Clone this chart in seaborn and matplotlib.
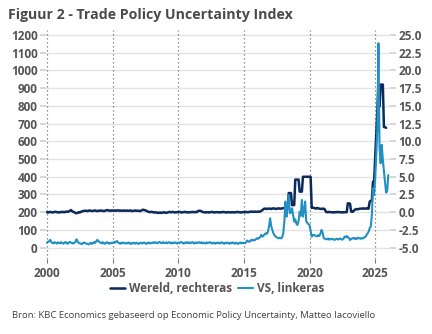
import numpy as np
import matplotlib
matplotlib.use("Agg")
import matplotlib.pyplot as plt
import seaborn as sns

# Trade Policy Uncertainty index, monthly from January 2000
# VS (United States), left axis
us_tpu = [
    28, 33, 36, 44, 31, 27, 24, 31, 27, 23, 30, 26,        # 2000
    25, 31, 27, 22, 28, 32, 25, 22, 29, 33, 27, 26,        # 2001
    23, 28, 31, 47, 35, 27, 25, 22, 20, 26, 29, 24,        # 2002
    24, 21, 18, 23, 27, 21, 25, 31, 27, 36, 44, 37,        # 2003
    32, 27, 24, 31, 24, 22, 28, 31, 25, 22, 28, 24,        # 2004
    26, 31, 27, 34, 37, 29, 25, 22, 28, 24, 29, 25,        # 2005
    23, 27, 24, 29, 23, 21, 27, 24, 28, 22, 27, 24,        # 2006
    21, 26, 28, 23, 27, 29, 24, 21, 27, 29, 23, 28,        # 2007
    25, 30, 26, 31, 27, 24, 30, 32, 27, 25, 31, 27,        # 2008
    26, 30, 24, 29, 31, 26, 23, 29, 25, 30, 26, 23,        # 2009
    29, 25, 30, 32, 26, 23, 29, 25, 31, 26, 30, 24,        # 2010
    29, 31, 26, 23, 30, 25, 29, 31, 26, 30, 24, 29,        # 2011
    26, 23, 30, 25, 29, 31, 26, 23, 29, 25, 22, 28,        # 2012
    25, 29, 23, 28, 30, 25, 22, 28, 24, 29, 25, 22,        # 2013
    28, 24, 29, 25, 22, 28, 24, 21, 27, 29, 24, 28,        # 2014
    26, 25, 30, 40, 35, 33, 38, 45, 40, 44, 42, 48,        # 2015
    53, 50, 55, 60, 72, 62, 68, 75, 81, 78, 90, 120,       # 2016
    166, 122, 100, 81, 70, 62, 58, 55, 53, 56, 52, 58,     # 2017
    81, 150, 260, 175, 230, 297, 194, 200, 222, 185, 147, 160,  # 2018
    135, 128, 150, 203, 180, 269, 175, 210, 260, 147, 140, 132, # 2019
    128, 95, 62, 70, 72, 68, 66, 64, 70, 66, 80, 100,      # 2020
    85, 53, 50, 48, 47, 52, 45, 48, 50, 46, 48, 44,        # 2021
    47, 50, 46, 48, 52, 47, 45, 50, 62, 58, 66, 60,        # 2022
    55, 43, 48, 52, 55, 50, 53, 48, 56, 52, 54, 50,        # 2023
    55, 52, 58, 60, 70, 80, 90, 109, 120, 185, 335, 297,   # 2024
    392, 520, 674, 1153, 560, 476, 580, 495, 430, 370, 310, 320,  # 2025
    410,                                                    # 2026
]

# Wereld (global), right axis
world_tpu = [
    0.0, -0.05, 0.0, 0.05, 0.0, -0.05, 0.0, 0.05, 0.05, 0.0, 0.0, -0.05,   # 2000
    0.0, 0.05, 0.0, 0.05, 0.0, 0.05, 0.1, 0.05, 0.1, 0.2, 0.3, 0.15,       # 2001
    0.05, 0.0, -0.1, -0.15, -0.1, 0.0, -0.05, 0.05, 0.1, 0.15, 0.2, 0.2,   # 2002
    0.2, 0.15, 0.2, 0.25, 0.2, 0.15, 0.2, 0.2, 0.25, 0.2, 0.15, 0.2,       # 2003
    0.2, 0.25, 0.2, 0.2, 0.15, 0.2, 0.25, 0.3, 0.25, 0.2, 0.25, 0.2,       # 2004
    0.25, 0.2, 0.25, 0.2, 0.25, 0.25, 0.2, 0.25, 0.2, 0.2, 0.25, 0.2,      # 2005
    0.2, 0.25, 0.2, 0.2, 0.25, 0.2, 0.15, 0.2, 0.2, 0.25, 0.2, 0.2,        # 2006
    0.2, 0.15, 0.2, 0.3, 0.35, 0.3, 0.25, 0.2, 0.1, 0.05, 0.0, 0.05,       # 2007
    0.05, 0.0, -0.05, 0.0, -0.05, -0.1, -0.05, -0.1, -0.05, -0.1, -0.05, 0.0,  # 2008
    -0.05, -0.1, -0.05, 0.0, 0.05, 0.0, 0.0, 0.05, 0.0, -0.05, 0.0, 0.0,   # 2009
    0.0, 0.05, 0.0, -0.05, 0.0, 0.0, 0.05, 0.0, 0.0, -0.05, 0.0, 0.0,      # 2010
    0.0, 0.05, 0.0, 0.0, 0.05, 0.0, 0.15, 0.2, 0.2, 0.15, 0.05, 0.0,       # 2011
    0.0, -0.05, 0.0, 0.0, -0.05, 0.0, 0.0, 0.05, 0.0, -0.05, 0.0, 0.0,     # 2012
    0.0, 0.0, -0.05, 0.0, 0.0, 0.05, 0.0, 0.0, -0.05, 0.0, 0.0, 0.0,       # 2013
    -0.05, 0.0, 0.0, -0.05, 0.0, 0.0, 0.05, 0.0, 0.0, -0.05, 0.0, 0.0,     # 2014
    0.0, 0.0, 0.05, 0.0, 0.0, 0.05, 0.05, 0.1, 0.05, 0.05, 0.1, 0.05,      # 2015
    0.05, 0.1, 0.05, 0.1, 0.2, 0.3, 0.45, 0.5, 0.5, 0.45, 0.5, 0.5,        # 2016
    0.5, 0.45, 0.5, 0.55, 0.5, 0.45, 0.5, 0.5, 0.55, 0.5, 0.5, 0.55,       # 2017
    0.55, 0.6, 0.6, 0.6, 0.6, 2.7, 2.7, 2.7, 1.0, 1.0, 1.0, 4.6,           # 2018
    4.6, 4.6, 4.6, 2.9, 2.9, 2.9, 5.0, 5.0, 5.0, 5.0, 5.0, 5.0,            # 2019
    5.0, 5.0, 0.6, 0.65, 0.6, 0.55, 0.5, 0.6, 0.55, 0.5, 0.45, 0.5,        # 2020
    0.45, 0.5, 0.4, 0.05, 0.0, 0.0, 0.05, 0.0, 0.0, 0.0, -0.05, 0.0,       # 2021
    0.0, 0.0, 0.05, 0.0, 0.0, 0.0, -0.05, 0.0, 0.0, 0.0, 0.0, 1.25,        # 2022
    1.25, 1.2, 0.1, 0.05, 0.1, 0.3, 0.4, 0.45, 0.4, 0.45, 0.5, 0.5,        # 2023
    0.5, 0.55, 0.5, 0.5, 0.55, 0.5, 0.5, 1.5, 1.6, 1.7, 4.3, 4.3,          # 2024
    7.5, 11.0, 14.5, 18.0, 14.9, 18.0, 18.0, 18.0, 12.0, 12.0, 11.9,       # 2025
]

year_ticks = [2000, 2005, 2010, 2015, 2020, 2025]
left_ticks = list(range(0, 1201, 100))
right_ticks = [-5.0, -2.5, 0.0, 2.5, 5.0, 7.5, 10.0, 12.5, 15.0, 17.5, 20.0, 22.5, 25.0]

title = "Figuur 2 - Trade Policy Uncertainty Index"
label_world = "Wereld, rechteras"
label_us = "VS, linkeras"
source = "Bron: KBC Economics gebaseerd op Economic Policy Uncertainty, Matteo Iacoviello"

# monthly time axis in decimal years
us_x = 2000 + np.arange(len(us_tpu)) / 12
world_x = 2000 + np.arange(len(world_tpu)) / 12

NAVY = "#0c2a5b"
BLUE = "#2390c3"
TXT = "#555555"

sns.set_theme(style="white")
plt.rcParams["font.family"] = ["Open Sans", "DejaVu Sans"]

fig = plt.figure(figsize=(4.32, 3.34), dpi=100)
ax = fig.add_axes([0.1065, 0.2246, 0.7963, 0.6856])
ax2 = ax.twinx()

# right axis underneath, carries the grid; left axis on top
ax.set_zorder(ax2.get_zorder() + 1)
ax.patch.set_visible(False)

sns.lineplot(x=world_x, y=world_tpu, ax=ax2, color=NAVY, linewidth=1.8, label=label_world, legend=False)
sns.lineplot(x=us_x, y=us_tpu, ax=ax, color=BLUE, linewidth=1.5, label=label_us, legend=False)

ax.set_xlim(1999.93, 2026.13)
ax.set_ylim(-64, 1228)
ax2.set_ylim(-6.6, 25.7)

ax.set_xticks(year_ticks)
ax.set_yticks(left_ticks)
ax2.set_yticks(right_ticks)
ax2.set_yticklabels([f"{v:.1f}" for v in right_ticks])
ax.set_xticklabels([str(y) for y in year_ticks])

# grid on the lower axes
ax2.grid(False)
ax.grid(False)
for v in right_ticks:
    ax2.axhline(v, color="#e3e3e3", linewidth=1.0, zorder=0)
for y in year_ticks:
    ax2.axvline(y, color="#707070", linewidth=0.9, linestyle=(0, (1, 2.2)), zorder=0)

for a in (ax, ax2):
    for s in a.spines.values():
        s.set_visible(False)

ax.tick_params(axis="y", which="both", left=True, length=4, width=1.2, color="#d0d0d0",
               labelsize=8.5, labelcolor=TXT, pad=2)
ax2.tick_params(axis="y", which="both", right=True, length=4, width=1.2, color="#d0d0d0",
                labelsize=8.5, labelcolor=TXT, pad=2)
ax.tick_params(axis="x", bottom=True, length=3, width=0.8, color="#777777",
               labelsize=8.5, labelcolor=TXT, pad=3)
for lab in ax.get_xticklabels() + ax.get_yticklabels() + ax2.get_yticklabels():
    lab.set_fontweight("bold")
ax.set_xlabel("")
ax.set_ylabel("")
ax2.set_ylabel("")

h1, l1 = ax2.get_legend_handles_labels()
h2, l2 = ax.get_legend_handles_labels()
fig.legend(h1 + h2, l1 + l2, loc="center", bbox_to_anchor=(0.502, 0.135), ncol=2,
           frameon=False, handlelength=1.3, handletextpad=0.3, columnspacing=0.5,
           prop={"weight": "bold", "size": 8.5}, labelcolor=TXT)

fig.text(0.019, 0.955, title, fontsize=10.2, fontweight="bold", color="#4a4a4a", va="center", ha="left")
fig.text(0.027, 0.054, source, fontsize=6.8, color="#404040", va="center", ha="left")

fig.savefig("out.png", dpi=100)
